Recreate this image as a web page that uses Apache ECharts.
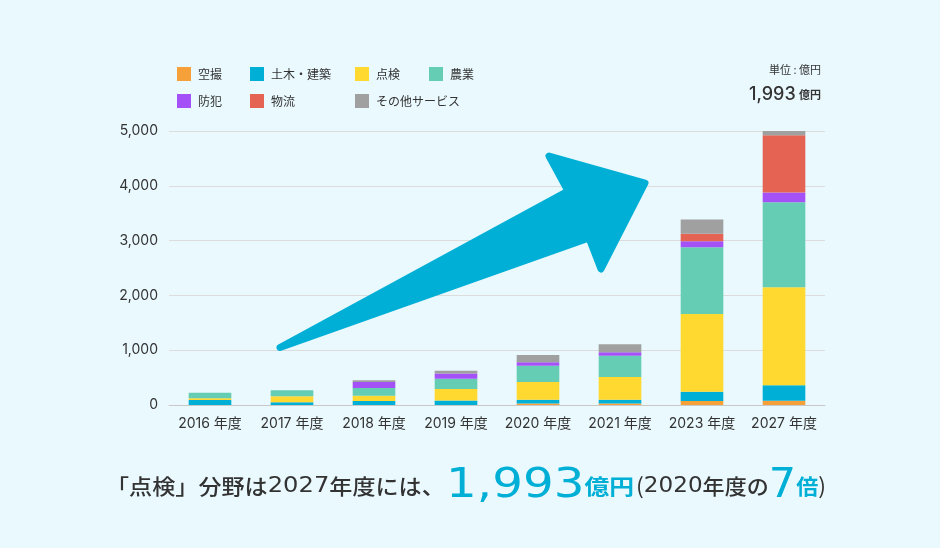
<!DOCTYPE html>
<html>
<head>
<meta charset="utf-8">
<script src="https://cdn.jsdelivr.net/npm/echarts@6/dist/echarts.min.js"></script>
<style>
html,body{margin:0;padding:0;background:#eaf9fe;}
#main{width:940px;height:548px;}
</style>
</head>
<body>
<div id="main"></div>
<script>
const categories = ['2016 年度','2017 年度','2018 年度','2019 年度','2020 年度','2021 年度','2023 年度','2027 年度'];
const seriesNames = ['空撮','土木・建築','点検','農業','防犯','物流','その他サービス'];
const aerial       = [0, 0, 0, 0, 27, 28, 75, 78];
const civil        = [91, 49, 73, 80, 70, 68, 165, 281];
const inspection   = [30, 110, 97, 214, 323, 415, 1420, 1790];
const agriculture  = [104, 110, 140, 183, 298, 390, 1220, 1553];
const security     = [0, 0, 110, 97, 61, 60, 110, 177];
const logistics    = [0, 0, 0, 0, 0, 0, 135, 1042];
const otherService = [0, 0, 30, 49, 134, 146, 262, 86];
const colors = ['#f6a03a','#00afd6','#ffd92f','#66cdb5','#a452f7','#e46353','#a0a0a0'];
const yMax = 5000, yInterval = 1000;

const seriesData = [aerial, civil, inspection, agriculture, security, logistics, otherService];
const numFont = 'Inter, "Noto Sans CJK JP", sans-serif';
const wideNum = '"DejaVu Sans", sans-serif';
const jpFont = '"Noto Sans CJK JP", sans-serif';
const blue = '#00afd6', dark = '#333';

const chart = echarts.init(document.getElementById('main'), null, {renderer:'canvas'});
const legendBase = {
  orient:'vertical', top:62, itemGap:13, itemWidth:14, itemHeight:14, icon:'rect',
  selectedMode:false,
  textStyle:{fontSize:12, color:dark, fontFamily:jpFont, padding:[0,0,0,2]}
};
const rowStyle = (size, color, family, weight) => ({
  fontSize:size, fill:color, fontFamily:family, fontWeight:weight||'normal',
  verticalAlign:'bottom', height:44
});
chart.setOption({
  backgroundColor:'#eaf9fe',
  animation:false,
  color: colors,
  legend:[
    Object.assign({}, legendBase, {left:172, data:[seriesNames[0], seriesNames[4]]}),
    Object.assign({}, legendBase, {left:245, data:[seriesNames[1], seriesNames[5]]}),
    Object.assign({}, legendBase, {left:350, data:[seriesNames[2], seriesNames[6]]}),
    Object.assign({}, legendBase, {left:424, data:[seriesNames[3]]})
  ],
  grid:{left:169, right:115, top:131, bottom:143, containLabel:false},
  xAxis:{
    type:'category', data:categories,
    axisLine:{lineStyle:{color:'#c8c8c8'}},
    axisTick:{show:false},
    axisLabel:{fontSize:14, color:dark, fontFamily:numFont, margin:12, interval:0}
  },
  yAxis:{
    type:'value', min:0, max:yMax, interval:yInterval,
    axisLine:{show:false}, axisTick:{show:false},
    splitLine:{lineStyle:{color:'#dcdcdc'}},
    axisLabel:{fontSize:14, color:dark, fontFamily:numFont, margin:11,
      formatter:v=>v.toLocaleString('en-US')}
  },
  series: seriesNames.map((n,i)=>({
    name:n, type:'bar', stack:'total', data:seriesData[i], barWidth:'52%',
    itemStyle:{color:colors[i]}
  })),
  graphic:[
    {
      type:'polygon', z:100,
      shape:{points:[[280,347.5],[568,191],[549,156],[645,183],[601,269],[589,238]]},
      style:{fill:blue, stroke:blue, lineWidth:7, lineJoin:'round'}
    },
    {
      type:'text', right:119, top:64,
      style:{text:'単位 : 億円', fontSize:11, fill:dark, fontFamily:jpFont}
    },
    {
      type:'text', right:119, top:86,
      style:{
        text:'{n|1,993} {u|億円}',
        rich:{
          n:{fontSize:18, fill:dark, fontFamily:numFont, fontWeight:500},
          u:{fontSize:11, fill:dark, fontFamily:jpFont, fontWeight:'bold'}
        }
      }
    },
    {
      type:'text', x:106, y:464, scaleX:1.1,
      style:{
        text:'{a|「点検」分野は}{b|2027}{a|年度には、}',
        rich:{
          a:rowStyle(21, dark, jpFont, 500),
          b:rowStyle(22, dark, wideNum)
        }
      }
    },
    {
      type:'text', x:446, y:464, scaleX:1.18,
      style:{
        text:'{c|1,993}{d|億円}',
        rich:{
          c:rowStyle(41, blue, wideNum),
          d:rowStyle(21, blue, jpFont, 'bold')
        }
      }
    },
    {
      type:'text', x:636, y:464, scaleX:1.05,
      style:{
        text:'{e|(}{b|2020}{a|年度の}{c|7}{d|倍}{e|)}',
        rich:{
          a:rowStyle(21, dark, jpFont, 500),
          b:rowStyle(22, dark, wideNum),
          c:rowStyle(41, blue, wideNum),
          d:rowStyle(21, blue, jpFont, 'bold'),
          e:rowStyle(22, dark, jpFont)
        }
      }
    }
  ]
});
</script>
</body>
</html>
